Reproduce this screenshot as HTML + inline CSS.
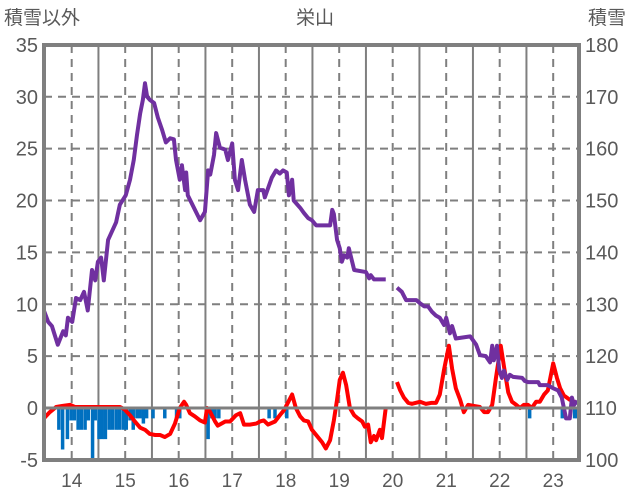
<!DOCTYPE html>
<html><head><meta charset="utf-8"><style>
html,body{margin:0;padding:0;background:#fff;}
svg{display:block;font-family:"Liberation Sans","Noto Sans CJK JP",sans-serif;}
</style></head><body>
<svg id="chart" width="636" height="501" viewBox="0 0 636 501" xmlns="http://www.w3.org/2000/svg">
<text x="4" y="24" font-size="19" fill="#595959">積雪以外</text>
<text x="315" y="24" font-size="19" fill="#595959" text-anchor="middle">栄山</text>
<text x="588" y="24" font-size="19" fill="#595959">積雪</text>
<g id="grid"></g><g id="bars"></g><g id="lines"></g><g id="axes"></g>
</svg>
<script>
const xTicks=[14,15,16,17,18,19,20,21,22,23];
const yLeftTicks=[-5,0,5,10,15,20,25,30,35];
const yRightTicks=[100,110,120,130,140,150,160,170,180];
const snowT=[[13.48,13.56,13.63,13.74,13.84,13.89,13.93,14.01,14.08,14.16,14.23,14.30,14.38,14.44,14.49,14.55,14.60,14.68,14.83,14.90,15.01,15.09,15.16,15.22,15.28,15.33,15.37,15.41,15.46,15.54,15.61,15.69,15.76,15.84,15.91,15.95,16.02,16.06,16.12,16.14,16.17,16.40,16.49,16.55,16.59,16.66,16.70,16.77,16.87,16.92,17.00,17.05,17.11,17.18,17.24,17.33,17.41,17.48,17.58,17.61,17.74,17.82,17.89,17.95,18.02,18.06,18.12,18.15,18.27,18.34,18.42,18.49,18.57,18.83,18.87,18.90,18.96,19.01,19.05,19.09,19.15,19.18,19.28,19.50,19.56,19.59,19.65,19.87],
[20.08,20.17,20.25,20.44,20.51,20.59,20.66,20.73,20.81,20.88,20.96,21.00,21.07,21.11,21.18,21.45,21.56,21.63,21.74,21.82,21.86,21.89,21.95,21.99,22.04,22.08,22.14,22.19,22.25,22.42,22.47,22.53,22.72,22.75,22.90,23.00,23.09,23.16,23.24,23.31,23.35,23.39,23.45]];
const snowV=[[128.8,126.6,125.8,122.2,124.8,124,127.4,126.6,131.2,130.8,132.4,128.8,136.6,134.6,138.2,139,134.6,142.4,145.8,149.2,151,154,157.8,162.6,166.8,169.4,172.6,170,169.4,168.8,166,163.6,161.2,162,161.8,157.8,154,156.8,152,155.4,151,146.2,147.8,155.8,155,158.8,163,160.2,159.8,157.8,161,154,152,157.8,154,149.2,147.8,152,152,150.6,154.4,155.8,155.2,155.8,155.4,151,154,150,148.6,147.6,146.6,146.2,145.2,145.2,148.2,147.4,142.4,140.8,138.2,139.4,139,140.8,136.6,136.2,135,135.6,134.8,134.8],
[133.2,132.4,130.8,130.8,130.2,129.6,129.6,128.6,127.8,127.4,126,127.4,124.4,125.8,123.4,123.8,122.2,120.2,120,118.8,122,119.2,122,117.4,115.8,117.2,115.4,116.4,116,115.8,115.2,115,115,114.4,114.4,113.8,113.4,112,108,108,112,110.6,111.4]];
const otherT=[[13.48,13.59,13.71,13.82,13.97,14.06,14.53,14.90,14.98,15.09,15.18,15.28,15.37,15.46,15.56,15.65,15.74,15.84,15.93,16.02,16.10,16.14,16.21,16.30,16.40,16.49,16.53,16.59,16.68,16.73,16.87,16.96,17.07,17.15,17.22,17.33,17.45,17.52,17.59,17.67,17.80,17.89,17.97,18.04,18.12,18.19,18.27,18.34,18.42,18.49,18.60,18.68,18.75,18.83,18.90,18.96,19.01,19.07,19.13,19.20,19.28,19.35,19.43,19.48,19.54,19.59,19.65,19.69,19.76,19.80,19.87],
[20.08,20.14,20.21,20.29,20.36,20.51,20.62,20.73,20.81,20.88,20.96,21.05,21.11,21.18,21.26,21.33,21.41,21.52,21.63,21.71,21.78,21.86,21.93,22.02,22.08,22.16,22.23,22.31,22.38,22.45,22.53,22.60,22.68,22.75,22.83,22.90,23.00,23.07,23.13,23.20,23.31,23.43]];
const otherV=[[-1,-0.4,0.1,0.2,0.3,0.1,0.1,0.1,-0.1,-0.7,-1.3,-1.9,-2.1,-2.5,-2.6,-2.6,-2.8,-2.5,-1.5,0,0.6,0.3,-0.5,-0.8,-1.2,-1.4,0,-0.4,-1.3,-1.7,-1.3,-1.3,-0.7,-0.5,-1.6,-1.6,-1.5,-1.3,-1.2,-1.6,-1.3,-0.7,-0.2,0.5,1.3,0,-0.8,-1.2,-1.3,-2.1,-2.8,-3.3,-3.9,-3.1,-1.2,0.8,2.7,3.4,2.2,0,-0.7,-1,-1.3,-1.8,-1.6,-3.3,-2.7,-3.1,-2.1,-2.9,0],
[2.5,1.7,1,0.5,0.4,0.6,0.4,0.5,0.5,1.3,3.7,6,3.8,1.9,0.8,-0.4,0.3,0.2,0.1,-0.4,-0.4,0.3,2.9,6,4,1.5,0.6,0.3,0,0.3,0.3,0,0.6,0.6,1.3,1.7,4.3,2.9,1.9,1.2,0.8,0.5]];
const barT=[13.76,13.83,13.92,13.99,14.05,14.12,14.18,14.25,14.31,14.39,14.44,14.51,14.57,14.63,14.70,14.76,14.83,14.89,14.96,15.02,15.09,15.15,15.22,15.28,15.34,15.40,15.52,15.74,15.96,16.02,16.55,16.62,16.68,16.75,17.69,17.80,18.02,22.56,23.17,23.40,23.45];
const barV=[-2.1,-4,-3,-1.2,-1.2,-2.1,-2.1,-2.1,-1.2,-5,-1.2,-3,-3,-3,-2.1,-2.1,-2.1,-2.1,-2.1,-2.1,-1.2,-2.1,-1,-1,-1.5,-1,-1,-1,-1,-1,-3,-1,-1,-1,-1,-1,-1,-1,-1,-1,-1];

const L=44,R=579,T=45,B=460;
const x=t=>71.7+(t-14)*53.5;
const yL=v=>408-v*10.375;
const yR=v=>yL((v-110)/2);
const NS="http://www.w3.org/2000/svg";
function mk(parent,tag,attrs){const e=document.createElementNS(NS,tag);for(const k in attrs)e.setAttribute(k,attrs[k]);document.getElementById(parent).appendChild(e);return e;}
const G="#7f7f7f";
yLeftTicks.forEach(v=>{if(v===-5||v===35||v===0)return;
 const e=mk('grid','line',{x1:L,x2:R,y1:yL(v),y2:yL(v),stroke:G,'stroke-width':2,'stroke-dasharray':'8,6'});
 
 });
xTicks.forEach(t=>{
 const d=mk('grid','line',{x1:x(t),x2:x(t),y1:T,y2:B,stroke:G,'stroke-width':2,'stroke-dasharray':'8,6'});
 
 
 const s=mk('grid','line',{x1:x(t+0.5),x2:x(t+0.5),y1:T,y2:B,stroke:G,'stroke-width':2});
 
 
 const lb=mk('axes','text',{x:x(t),y:487,'font-size':19,fill:'#595959','text-anchor':'middle'});lb.textContent=t;
 
 
});
barT.forEach((t,i)=>{const y0=yL(0),y1=yL(barV[i]);
 const b=mk('bars','rect',{x:x(t)-1.75,y:y0,width:3.5,height:y1-y0,fill:'#0070c0'});
 
 });
const z=mk('axes','line',{x1:L,x2:R,y1:yL(0),y2:yL(0),stroke:G,'stroke-width':3});


otherT.forEach((ts,k)=>{const p=mk('lines','polyline',{points:ts.map((t,i)=>x(t)+','+yL(otherV[k][i])).join(' '),fill:'none',stroke:'#ff0000','stroke-width':4,'stroke-linejoin':'round'});
 
 });
snowT.forEach((ts,k)=>{const p=mk('lines','polyline',{points:ts.map((t,i)=>x(t)+','+yR(snowV[k][i])).join(' '),fill:'none',stroke:'#7030a0','stroke-width':4,'stroke-linejoin':'round'});
 
 });
const fr=mk('axes','rect',{x:L,y:T,width:R-L,height:B-T,fill:'none',stroke:G,'stroke-width':4});


yLeftTicks.forEach(v=>{const e=mk('axes','text',{x:38,y:yL(v)+7,'font-size':20,fill:'#595959','text-anchor':'end'});e.textContent=v;
 
 });
yRightTicks.forEach(v=>{const e=mk('axes','text',{x:585,y:yR(v)+7,'font-size':20,fill:'#595959'});e.textContent=v;
 
 });
</script>
</body></html>
